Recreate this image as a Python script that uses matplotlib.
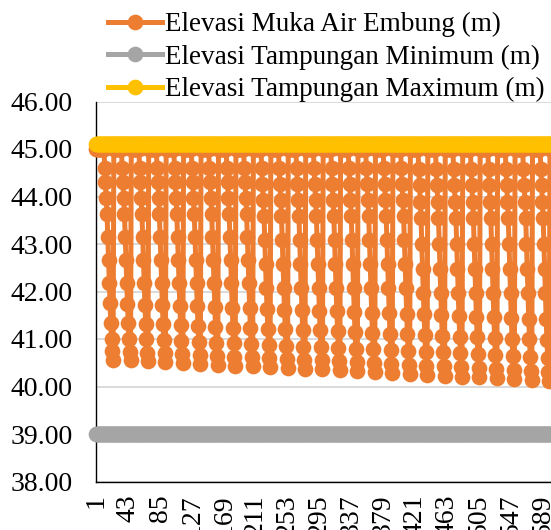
import numpy as np
import matplotlib
matplotlib.use("Agg")
import matplotlib.pyplot as plt
import matplotlib.ticker as ticker

# Elevasi muka air embung (m), satu baris = satu siklus (23 hari)
elevasi_muka = [
    45.00, 45.00, 45.00, 45.00, 45.00, 45.00, 45.00, 45.00, 45.00, 45.00, 45.00, 44.60, 44.30, 43.96, 43.64, 43.15, 42.66, 42.17, 41.75, 41.34, 41.01, 40.74, 40.56,
    45.00, 45.00, 45.00, 45.00, 45.00, 45.00, 45.00, 45.00, 45.00, 45.00, 45.00, 44.60, 44.30, 43.96, 43.64, 43.15, 42.66, 42.17, 41.74, 41.33, 41.00, 40.73, 40.55,
    45.00, 45.00, 45.00, 45.00, 45.00, 45.00, 45.00, 45.00, 45.00, 45.00, 45.00, 44.60, 44.30, 43.96, 43.64, 43.15, 42.66, 42.17, 41.72, 41.32, 40.99, 40.71, 40.53,
    45.00, 45.00, 45.00, 45.00, 45.00, 45.00, 45.00, 45.00, 45.00, 45.00, 45.00, 44.60, 44.30, 43.96, 43.64, 43.15, 42.66, 42.17, 41.72, 41.31, 40.98, 40.70, 40.52,
    45.00, 45.00, 45.00, 45.00, 45.00, 45.00, 45.00, 45.00, 45.00, 45.00, 45.00, 44.60, 44.30, 43.96, 43.64, 43.15, 42.66, 42.17, 41.70, 41.29, 40.96, 40.68, 40.50,
    45.00, 45.00, 45.00, 45.00, 45.00, 45.00, 45.00, 45.00, 45.00, 45.00, 45.00, 44.60, 44.30, 43.96, 43.64, 43.15, 42.66, 42.17, 41.69, 41.28, 40.94, 40.67, 40.48,
    45.00, 45.00, 45.00, 45.00, 45.00, 45.00, 45.00, 45.00, 45.00, 45.00, 45.00, 44.60, 44.30, 43.96, 43.64, 43.15, 42.66, 42.17, 41.67, 41.26, 40.92, 40.65, 40.46,
    45.00, 45.00, 45.00, 45.00, 45.00, 45.00, 45.00, 45.00, 45.00, 45.00, 45.00, 44.60, 44.30, 43.96, 43.64, 43.15, 42.66, 42.17, 41.66, 41.24, 40.91, 40.63, 40.44,
    45.00, 45.00, 45.00, 45.00, 45.00, 45.00, 45.00, 45.00, 45.00, 45.00, 45.00, 44.60, 44.30, 43.96, 43.64, 43.15, 42.66, 42.17, 41.65, 41.23, 40.90, 40.62, 40.43,
    45.00, 45.00, 45.00, 45.00, 45.00, 45.00, 45.00, 45.00, 45.00, 45.00, 45.00, 44.59, 44.27, 43.92, 43.59, 43.08, 42.57, 42.07, 41.64, 41.22, 40.88, 40.60, 40.41,
    45.00, 45.00, 45.00, 45.00, 45.00, 45.00, 45.00, 45.00, 45.00, 45.00, 45.00, 44.59, 44.27, 43.92, 43.59, 43.08, 42.57, 42.07, 41.62, 41.20, 40.86, 40.58, 40.39,
    45.00, 45.00, 45.00, 45.00, 45.00, 45.00, 45.00, 45.00, 45.00, 45.00, 45.00, 44.59, 44.27, 43.92, 43.59, 43.08, 42.57, 42.07, 41.61, 41.18, 40.84, 40.56, 40.37,
    45.00, 45.00, 45.00, 45.00, 45.00, 45.00, 45.00, 45.00, 45.00, 45.00, 45.00, 44.59, 44.27, 43.92, 43.59, 43.08, 42.57, 42.07, 41.60, 41.18, 40.83, 40.55, 40.36,
    45.00, 45.00, 45.00, 45.00, 45.00, 45.00, 45.00, 45.00, 45.00, 45.00, 45.00, 44.59, 44.27, 43.92, 43.59, 43.08, 42.57, 42.07, 41.58, 41.16, 40.82, 40.53, 40.34,
    45.00, 45.00, 45.00, 45.00, 45.00, 45.00, 45.00, 45.00, 45.00, 45.00, 45.00, 44.59, 44.27, 43.92, 43.59, 43.08, 42.57, 42.07, 41.57, 41.14, 40.80, 40.51, 40.32,
    45.00, 45.00, 45.00, 45.00, 45.00, 45.00, 45.00, 45.00, 45.00, 45.00, 45.00, 44.59, 44.27, 43.92, 43.59, 43.08, 42.57, 42.07, 41.55, 41.13, 40.78, 40.49, 40.30,
    45.00, 45.00, 45.00, 45.00, 45.00, 45.00, 45.00, 45.00, 45.00, 45.00, 45.00, 44.59, 44.27, 43.92, 43.59, 43.08, 42.57, 42.07, 41.54, 41.11, 40.76, 40.47, 40.28,
    45.00, 45.00, 45.00, 45.00, 45.00, 45.00, 45.00, 45.00, 45.00, 45.00, 45.00, 44.59, 44.27, 43.92, 43.59, 43.08, 42.57, 42.07, 41.53, 41.10, 40.75, 40.46, 40.27,
    45.00, 45.00, 45.00, 45.00, 45.00, 45.00, 45.00, 45.00, 45.00, 45.00, 45.00, 44.57, 44.25, 43.88, 43.54, 43.01, 42.48, 41.96, 41.52, 41.09, 40.73, 40.44, 40.25,
    45.00, 45.00, 45.00, 45.00, 45.00, 45.00, 45.00, 45.00, 45.00, 45.00, 45.00, 44.57, 44.25, 43.88, 43.54, 43.01, 42.48, 41.96, 41.50, 41.07, 40.72, 40.43, 40.23,
    45.00, 45.00, 45.00, 45.00, 45.00, 45.00, 45.00, 45.00, 45.00, 45.00, 45.00, 44.57, 44.25, 43.88, 43.54, 43.01, 42.48, 41.96, 41.49, 41.05, 40.70, 40.41, 40.21,
    45.00, 45.00, 45.00, 45.00, 45.00, 45.00, 45.00, 45.00, 45.00, 45.00, 45.00, 44.57, 44.25, 43.88, 43.54, 43.01, 42.48, 41.96, 41.47, 41.04, 40.68, 40.39, 40.19,
    45.00, 45.00, 45.00, 45.00, 45.00, 45.00, 45.00, 45.00, 45.00, 45.00, 45.00, 44.57, 44.25, 43.88, 43.54, 43.01, 42.48, 41.96, 41.46, 41.02, 40.66, 40.37, 40.17,
    45.00, 45.00, 45.00, 45.00, 45.00, 45.00, 45.00, 45.00, 45.00, 45.00, 45.00, 44.57, 44.25, 43.88, 43.54, 43.01, 42.48, 41.96, 41.44, 41.00, 40.64, 40.35, 40.15,
    45.00, 45.00, 45.00, 45.00, 45.00, 45.00, 45.00, 45.00, 45.00, 45.00, 45.00, 44.57, 44.25, 43.88, 43.54, 43.01, 42.48, 41.96, 41.43, 40.99, 40.63, 40.33, 40.13,
    45.00, 45.00, 45.00, 45.00, 45.00, 45.00, 45.00, 45.00, 45.00, 45.00, 45.00, 44.57, 44.25, 43.88, 43.54, 43.01, 42.48, 41.96, 41.42, 40.97, 40.61, 40.31, 40.11,
    45.00, 45.00, 45.00, 45.00, 45.00, 45.00, 45.00, 45.00, 45.00, 45.00, 45.00, 44.57, 44.25, 43.88, 43.54, 43.01, 42.48, 41.96, 41.40, 40.95, 40.59, 40.29, 40.09,
]
elevasi_min = 39.00   # elevasi tampungan minimum (m)
elevasi_max = 45.10   # elevasi tampungan maximum (m)

label_muka = "Elevasi Muka Air Embung (m)"
label_min = "Elevasi Tampungan Minimum (m)"
label_max = "Elevasi Tampungan Maximum (m)"

# Hari ke-1 .. n (kategori sumbu x)
hari = np.arange(1, len(elevasi_muka) + 1)
n_axis = 640  # jumlah kategori pada sumbu (sebagian terpotong di kanan)

c_orange = "#ED7D31"
c_gray = "#A5A5A5"
c_yellow = "#FFC000"

plt.rcParams["font.family"] = ["Liberation Serif", "DejaVu Serif"]

W, H = 551, 530
fig = plt.figure(figsize=(W / 100, H / 100), dpi=100)
px_cat = 0.7585
ax = fig.add_axes([96 / W, (H - 481.5) / H, n_axis * px_cat / W, 380 / H])

ms = 11.3
lw = 3.6
ax.plot(hari, elevasi_muka, color=c_orange, lw=lw, marker="o", ms=ms, mew=0,
        label=label_muka, zorder=3, clip_on=False)
ax.plot(hari, np.full(len(hari), elevasi_min), color=c_gray, lw=lw, marker="o", ms=ms,
        mew=0, label=label_min, zorder=4, clip_on=False)
ax.plot(hari, np.full(len(hari), elevasi_max), color=c_yellow, lw=lw, marker="o", ms=ms,
        mew=0, label=label_max, zorder=5, clip_on=False)

ax.set_xlim(0.5, n_axis + 0.5)
ax.set_ylim(38, 46)
ax.yaxis.set_major_locator(ticker.MultipleLocator(1))
ax.yaxis.set_major_formatter(ticker.FormatStrFormatter("%.2f"))
ax.set_xticks(hari[::42])
ax.set_xticklabels([str(h) for h in hari[::42]], rotation=90, va="top", ha="center")

ax.grid(axis="y", color="#D9D9D9", lw=1.4, zorder=0)
ax.set_axisbelow(True)
for s in ["top", "right"]:
    ax.spines[s].set_visible(False)
for s in ["left", "bottom"]:
    ax.spines[s].set_color("black")
    ax.spines[s].set_linewidth(1.0)
ax.tick_params(axis="y", length=0, pad=17, labelsize=20)
ax.tick_params(axis="x", length=0, pad=9, labelsize=20)

fig.legend(loc="upper left", bbox_to_anchor=(108 / W, 1 - 12 / H), frameon=False,
           fontsize=19.5, handlelength=2.0, handletextpad=0.1, labelspacing=0.27,
           borderpad=0, borderaxespad=0)

fig.savefig("out.png", dpi=100)
